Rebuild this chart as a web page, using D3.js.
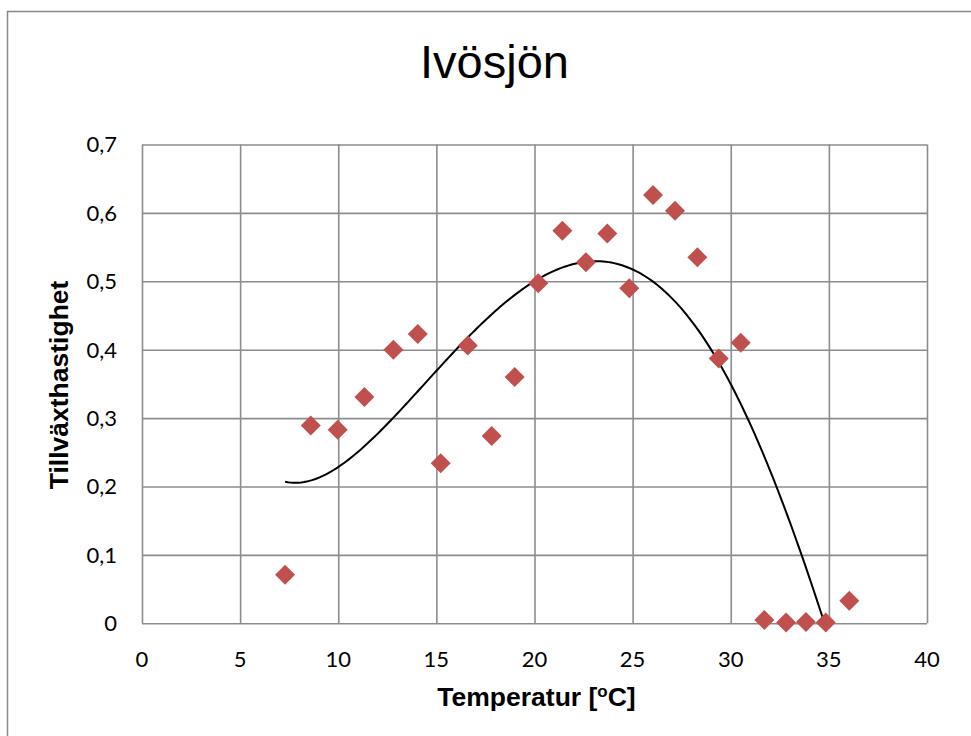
<!DOCTYPE html>
<html>
<head>
<meta charset="utf-8">
<script src="https://cdn.jsdelivr.net/npm/d3@7"></script>
<style>
  html, body { margin: 0; padding: 0; background: #fff; }
  svg { display: block; }
</style>
</head>
<body>
<svg id="chart" width="971" height="736"></svg>
<script>
// ---- Data ----
const temperature = [7.29, 8.60, 9.97, 11.33, 12.81, 14.05, 15.22, 16.60, 17.82, 18.99,
  20.19, 21.42, 22.62, 23.71, 24.83, 26.04, 27.16, 28.30, 29.39, 30.51,
  31.71, 32.82, 33.83, 34.84, 36.04];
const growthRate = [0.071, 0.289, 0.283, 0.331, 0.400, 0.423, 0.234, 0.406, 0.274, 0.360,
  0.497, 0.574, 0.528, 0.570, 0.490, 0.626, 0.603, 0.535, 0.387, 0.410,
  0.005, 0.001, 0.002, 0.001, 0.033];

// Trend line samples
const trendX = [7.29, 7.88, 10.0, 11.45, 12.81, 14.0, 15.02, 16.04, 17.06, 18.35,
  20.2, 21.3, 23.17, 25.04, 26.74, 28.1, 29.42, 30.0, 30.82, 31.58,
  32.35, 33.0, 33.7, 34.76];
const trendY = [0.207, 0.2057, 0.2267, 0.263, 0.300, 0.341, 0.368, 0.402, 0.429, 0.466,
  0.4997, 0.5216, 0.531, 0.517, 0.483, 0.434, 0.380, 0.356, 0.300, 0.249,
  0.200, 0.146, 0.097, 0.0];

const xTicks = [0, 5, 10, 15, 20, 25, 30, 35, 40];
const yTicks = [0, 0.1, 0.2, 0.3, 0.4, 0.5, 0.6, 0.7];
const yTickLabels = ["0", "0,1", "0,2", "0,3", "0,4", "0,5", "0,6", "0,7"];

const title = "Ivösjön";
const xTitle = "Temperatur [";
const xTitleSup = "o";
const xTitleEnd = "C]";
const yTitle = "Tillväxthastighet";

// ---- Smooth the read trend samples with a least-squares polynomial ----
function polyFit(xs, ys, deg) {
  const x0 = (xs[0] + xs[xs.length - 1]) / 2, s = (xs[xs.length - 1] - xs[0]) / 2;
  const n = deg + 1;
  const A = Array.from({ length: n }, () => new Array(n + 1).fill(0));
  xs.forEach((xv, k) => {
    const u = (xv - x0) / s;
    const pw = [];
    for (let i = 0; i < 2 * n; i++) pw.push(Math.pow(u, i));
    for (let i = 0; i < n; i++) {
      for (let j = 0; j < n; j++) A[i][j] += pw[i + j];
      A[i][n] += pw[i] * ys[k];
    }
  });
  for (let c = 0; c < n; c++) {
    let p = c;
    for (let r = c + 1; r < n; r++) if (Math.abs(A[r][c]) > Math.abs(A[p][c])) p = r;
    [A[c], A[p]] = [A[p], A[c]];
    for (let r = 0; r < n; r++) {
      if (r === c) continue;
      const f = A[r][c] / A[c][c];
      for (let k = c; k <= n; k++) A[r][k] -= f * A[c][k];
    }
  }
  const coef = A.map((row, i) => row[n] / row[i]);
  return xv => { const u = (xv - x0) / s; return coef.reduce((acc, c, i) => acc + c * Math.pow(u, i), 0); };
}
const trendFn = polyFit(trendX, trendY, 6);

// ---- Layout ----
const svg = d3.select("#chart");
const plot = { left: 142, right: 927, top: 144.5, bottom: 623.3 };
const gridColor = "#8c8c8c";
const markerColor = "#c0504d";
const tickFont = "Lato, 'Open Sans', sans-serif";
const titleFont = "'Liberation Sans', Arial, sans-serif";

// outer chart border
svg.append("rect")
  .attr("x", 7.5).attr("y", 11.5)
  .attr("width", 1000).attr("height", 800)
  .attr("fill", "#fff")
  .attr("stroke", "#898989").attr("stroke-width", 1.5);

const x = d3.scaleLinear().domain([0, 40]).range([plot.left, plot.right]);
const y = d3.scaleLinear().domain([0, 0.7]).range([plot.bottom, plot.top]);

// grid via axes
const gx = svg.append("g")
  .attr("transform", `translate(0,${plot.bottom})`)
  .call(d3.axisBottom(x).tickValues(xTicks).tickSize(-(plot.bottom - plot.top)).tickFormat(""));
gx.select(".domain").remove();
gx.selectAll("line").attr("stroke", gridColor).attr("stroke-width", 1.6);

const gy = svg.append("g")
  .attr("transform", `translate(${plot.left},0)`)
  .call(d3.axisLeft(y).tickValues(yTicks).tickSize(-(plot.right - plot.left)).tickFormat(""));
gy.select(".domain").remove();
gy.selectAll("line").attr("stroke", gridColor).attr("stroke-width", 1.6);

// tick labels
svg.append("g").selectAll("text")
  .data(xTicks).join("text")
  .attr("x", d => x(d))
  .attr("y", 667)
  .attr("text-anchor", "middle")
  .attr("font-family", tickFont)
  .attr("font-size", 22)
  .attr("fill", "#000")
  .text(d => d);

svg.append("g").selectAll("text")
  .data(yTicks).join("text")
  .attr("x", 117)
  .attr("y", d => y(d))
  .attr("dy", "0.36em")
  .attr("text-anchor", "end")
  .attr("font-family", tickFont)
  .attr("font-size", 22)
  .attr("fill", "#000")
  .text((d, i) => yTickLabels[i]);

// trend line
const tMin = trendX[0], tMax = trendX[trendX.length - 1];
const trendData = d3.range(0, 201).map(i => {
  const t = tMin + (tMax - tMin) * i / 200;
  return [t, trendFn(t)];
});
svg.append("path")
  .datum(trendData)
  .attr("fill", "none")
  .attr("stroke", "#000")
  .attr("stroke-width", 2)
  .attr("d", d3.line().x(d => x(d[0])).y(d => y(d[1])));

// markers (diamonds)
const diamond = d3.symbol().type(d3.symbolSquare).size(200);
svg.append("g").selectAll("path")
  .data(temperature.map((t, i) => [t, growthRate[i]]))
  .join("path")
  .attr("d", diamond)
  .attr("transform", d => `translate(${x(d[0])},${y(d[1])}) rotate(45)`)
  .attr("fill", markerColor);

// titles
svg.append("text")
  .attr("x", (plot.left + plot.right) / 2 - 40)
  .attr("y", 78)
  .attr("text-anchor", "middle")
  .attr("font-family", titleFont)
  .attr("font-size", 47)
  .attr("fill", "#000")
  .text(title);

const xt = svg.append("text")
  .attr("x", (plot.left + plot.right) / 2 + 2)
  .attr("y", 706)
  .attr("text-anchor", "middle")
  .attr("font-family", titleFont)
  .attr("font-weight", "bold")
  .attr("font-size", 26.5)
  .attr("fill", "#000");
xt.append("tspan").text(xTitle);
xt.append("tspan").attr("font-size", 17).attr("dy", -9).text(xTitleSup);
xt.append("tspan").attr("dy", 9).text(xTitleEnd);

svg.append("text")
  .attr("transform", `translate(68,${(plot.top + plot.bottom) / 2 + 1}) rotate(-90)`)
  .attr("text-anchor", "middle")
  .attr("font-family", titleFont)
  .attr("font-weight", "bold")
  .attr("font-size", 26.5)
  .attr("fill", "#000")
  .text(yTitle);
</script>
</body>
</html>
